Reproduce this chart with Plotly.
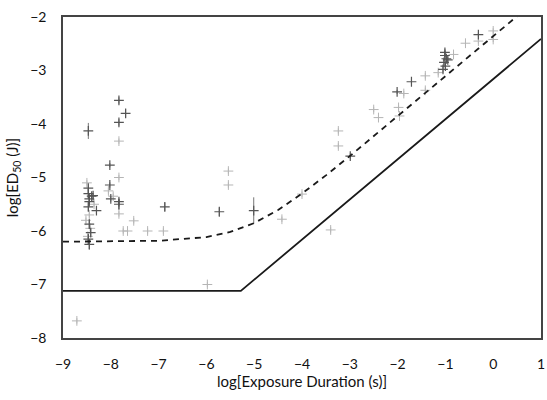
import plotly.graph_objects as go

# Model curves
solid_x = [-9, -5.28, 1]
solid_y = [-7.12, -7.12, -2.41]

dashed_x = [-9, -8, -7, -6, -5.5, -5, -4.5, -4, -3.5, -3, -2, -1, 0, 0.5]
dashed_y = [-6.2, -6.197, -6.183, -6.114, -6.018, -5.852, -5.607, -5.30, -4.96, -4.60, -3.858, -3.11, -2.36, -1.985]

# Data points (dark)
dark_x = [-8.47, -8.47, -8.45, -8.45, -8.47, -8.40, -8.37, -8.30, -8.45, -8.42, -8.47, -8.45, -8.47,
          -8.02, -8.02, -8.00, -7.83, -7.83, -7.69, -7.83, -7.83,
          -5.73, -5.01, -6.87,
          -1.01, -1.01, -0.98, -1.03, -1.00, -0.95, -1.05, -0.31, -2.01, -1.71, -2.99]
dark_y = [-4.13, -5.30, -5.40, -5.45, -5.55, -5.35, -5.34, -5.62, -5.87, -6.03, -6.15, -6.25, -5.20,
          -4.77, -5.14, -5.40, -3.56, -3.97, -3.80, -5.50, -5.45,
          -5.64, -5.62, -5.55,
          -2.66, -2.72, -2.78, -2.85, -2.92, -2.80, -2.98, -2.33, -3.40, -3.21, -4.60]
dark_ey = [0.15, 0.08, 0.06, 0.06, 0.08, 0.05, 0.05, 0.06, 0.08, 0.08, 0.1, 0.1, 0.05,
           0.04, 0.05, 0.05, 0.06, 0.06, 0.08, 0.1, 0.06,
           0.08, 0.25, 0.08,
           0.06, 0.06, 0.06, 0.06, 0.06, 0.06, 0.06, 0.04, 0.04, 0.04, 0.05]

# Data points (light)
light_x = [-8.50, -8.45, -8.52, -8.43, -8.48, -8.35, -8.05, -7.95, -7.83, -7.83, -7.83, -7.52,
           -7.74, -7.65, -7.23, -6.90, -5.54, -5.54, -4.42, -4.00, -3.40, -5.98,
           -3.24, -3.24, -2.50, -2.40, -1.87, -1.98, -1.96, -1.42, -1.42, -1.15, -0.83,
           -0.31, 0.00, 0.00, -0.58, -8.71]
light_y = [-5.10, -5.70, -5.80, -5.95, -6.10, -5.50, -5.25, -5.35, -4.32, -5.00, -5.68, -5.81,
           -6.00, -6.00, -6.00, -6.00, -4.88, -5.14, -5.78, -5.31, -5.98, -7.00,
           -4.13, -4.41, -3.73, -3.88, -3.43, -3.69, -3.85, -3.10, -3.37, -3.04, -2.70,
           -2.45, -2.26, -2.42, -2.49, -7.68]

fig = go.Figure()

fig.add_trace(go.Scatter(
    x=light_x, y=light_y, mode="markers",
    marker=dict(symbol="cross-thin", size=7, line=dict(color="#b5b5b5", width=1)),
    error_y=dict(type="constant", value=0.05, color="#c0c0c0", thickness=1, width=0),
    showlegend=False, hoverinfo="x+y"))

fig.add_trace(go.Scatter(
    x=dark_x, y=dark_y, mode="markers",
    marker=dict(symbol="cross-thin", size=7, line=dict(color="#555555", width=1.2)),
    error_y=dict(type="data", array=dark_ey, color="#777777", thickness=1, width=0),
    showlegend=False, hoverinfo="x+y"))

fig.add_trace(go.Scatter(
    x=dashed_x, y=dashed_y, mode="lines",
    line=dict(color="#1a1a1a", width=1.8, dash="6px,5px"),
    showlegend=False))

fig.add_trace(go.Scatter(
    x=solid_x, y=solid_y, mode="lines",
    line=dict(color="#1a1a1a", width=1.8),
    showlegend=False))

font_family = "Lato, 'Open Sans', sans-serif"

fig.update_layout(
    width=547, height=400,
    margin=dict(l=63, r=6, t=17, b=62, autoexpand=False),
    paper_bgcolor="white", plot_bgcolor="white",
    font=dict(family=font_family, size=14, color="#111111"),
    xaxis=dict(
        range=[-9, 1], dtick=1, tick0=-9,
        showgrid=False, zeroline=False, automargin=False,
        showline=True, mirror=True, linecolor="#444444", linewidth=1.5,
        ticks="", ticklabelstandoff=12, ticklabeloverflow="allow",
        title=dict(text="log[Exposure Duration (s)]", font=dict(size=15), standoff=6),
    ),
    yaxis=dict(
        range=[-8, -2], dtick=1, tick0=-8,
        showgrid=False, zeroline=False, automargin=False,
        showline=True, mirror=True, linecolor="#444444", linewidth=1.5,
        ticks="", ticklabelstandoff=12, ticklabeloverflow="allow",
        title=dict(text="log[ED<sub>50</sub> (J)]", font=dict(size=15), standoff=8),
    ),
)

fig.write_html("out.html", config={"displayModeBar": False},
               post_script="document.body.style.margin='0';document.body.style.padding='0';")
